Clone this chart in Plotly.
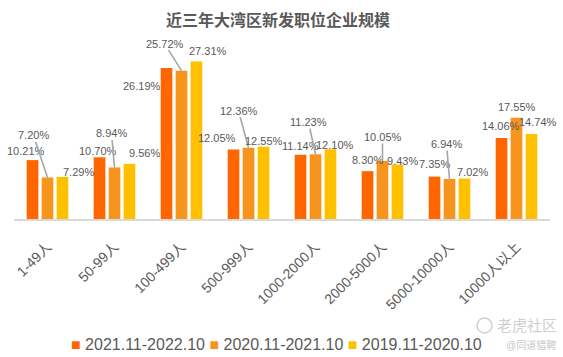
import plotly.graph_objects as go

# ---------------- data ----------------
categories = ["1-49人", "50-99人", "100-499人", "500-999人",
              "1000-2000人", "2000-5000人", "5000-10000人", "10000人以上"]
series_names = ["2021.11-2022.10", "2020.11-2021.10", "2019.11-2020.10"]
s2022 = [10.21, 10.70, 26.19, 12.05, 11.14, 8.30, 7.35, 14.06]
s2021 = [7.20, 8.94, 25.72, 12.36, 11.23, 10.05, 6.94, 17.55]
s2020 = [7.29, 9.56, 27.31, 12.55, 12.10, 9.43, 7.02, 14.74]
title_text = "近三年大湾区新发职位企业规模"

# ---------------- style ----------------
colors = ["#FF6600", "#F7941D", "#FFC000"]
text_color = "#595959"
FONT = "Arial, 'Liberation Sans', 'Noto Sans CJK SC', sans-serif"
W, H = 563, 357
L, R, T, B = 14, 13, 46, 138
plot_w = W - L - R
plot_h = H - T - B
band = plot_w / len(categories)
bargap = 0.33
slot = band * (1 - bargap) / 3

# label offsets (pixels) of text centre from bar-top centre; (dx, dy) dy<0 is up
label_off = [
    [(-7, -9), (-2, -6), (-25, 18), (-17, -12), (0, -9), (0, -11), (0, -13), (-1, -12)],
    [(-14, -42), (-3, -34), (-17, -27), (-10, -37), (-7, -32), (0, -24), (-3, -35), (0, -11)],
    [(16, -5), (15, -11), (12, -11), (1, -6), (5, -4), (5, -4), (8, -7), (7, -12)],
]
leader = [
    [False] * 8,
    [True, True, True, True, True, True, True, False],
    [False] * 8,
]

series = [s2022, s2021, s2020]

fig = go.Figure()
for name, vals, col in zip(series_names, series, colors):
    fig.add_trace(go.Bar(x=categories, y=vals, name=name, marker_color=col,
                         marker_line_width=0, showlegend=False))

annotations = []
for si, vals in enumerate(series):
    shift = (si - 1) * slot
    for ci, v in enumerate(vals):
        dx, dy = label_off[si][ci]
        txt = f"{v:.2f}%"
        if leader[si][ci]:
            annotations.append(dict(
                x=categories[ci], y=v, xref="x", yref="y", xshift=shift,
                text=txt, showarrow=True, ax=dx, ay=dy, arrowhead=0,
                arrowwidth=1.6, arrowcolor="#A6A6A6", standoff=0, borderpad=0,
                font=dict(size=11, color=text_color, family=FONT)))
        else:
            annotations.append(dict(
                x=categories[ci], y=v, xref="x", yref="y",
                xshift=shift + dx, yshift=-dy, text=txt, showarrow=False,
                xanchor="center", yanchor="middle",
                font=dict(size=11, color=text_color, family=FONT)))


def px(xp):
    return (xp - L) / plot_w


def py(yp):
    return (T + plot_h - yp) / plot_h


# legend built as text
legend_html = " ".join(
    f'<span style="color:{c}">■</span> {n}' for n, c in zip(series_names, colors))
annotations.append(dict(x=px(276), y=py(344), xref="paper", yref="paper",
                        text=legend_html, showarrow=False, xanchor="center",
                        yanchor="middle",
                        font=dict(size=16, color=text_color, family=FONT)))

# watermark
annotations.append(dict(x=px(527), y=py(325), xref="paper", yref="paper",
                        text="老虎社区", showarrow=False, xanchor="center",
                        yanchor="middle",
                        font=dict(size=15, color="#CFCFCF", family=FONT)))
annotations.append(dict(x=px(531), y=py(345), xref="paper", yref="paper",
                        text="@同道猎聘", showarrow=False, xanchor="center",
                        yanchor="middle",
                        font=dict(size=10, color="#C8C8C8", family=FONT)))

fig.add_shape(type="circle", xref="paper", yref="paper",
              x0=px(477), x1=px(492), y0=py(333), y1=py(318),
              line=dict(color="#CFCFCF", width=1.5))

fig.update_layout(
    width=W, height=H,
    margin=dict(l=L, r=R, t=T, b=B, autoexpand=False),
    paper_bgcolor="white", plot_bgcolor="white",
    barmode="group", bargap=bargap, bargroupgap=0.22,
    title=dict(text=f"<b>{title_text}</b>", x=278 / W, y=1 - 20 / H,
               xanchor="center", yanchor="middle", xref="container",
               yref="container", automargin=False,
               font=dict(size=16, color=text_color, family=FONT)),
    xaxis=dict(type="category", range=[-0.5, len(categories) - 0.5],
               showline=True, linecolor="#D9D9D9", linewidth=2,
               showgrid=False, ticks="", tickangle=-45, automargin=False,
               ticklabelstandoff=12,
               tickfont=dict(size=14, color=text_color, family=FONT)),
    yaxis=dict(range=[0, 30], visible=False, showgrid=False, zeroline=False,
               automargin=False),
    annotations=annotations,
    font=dict(family=FONT, color=text_color),
)

fig.write_html("out.html",
               config={"displayModeBar": False, "displaylogo": False},
               post_script="document.body.style.margin='0';"
                           "document.body.style.overflow='hidden';")
